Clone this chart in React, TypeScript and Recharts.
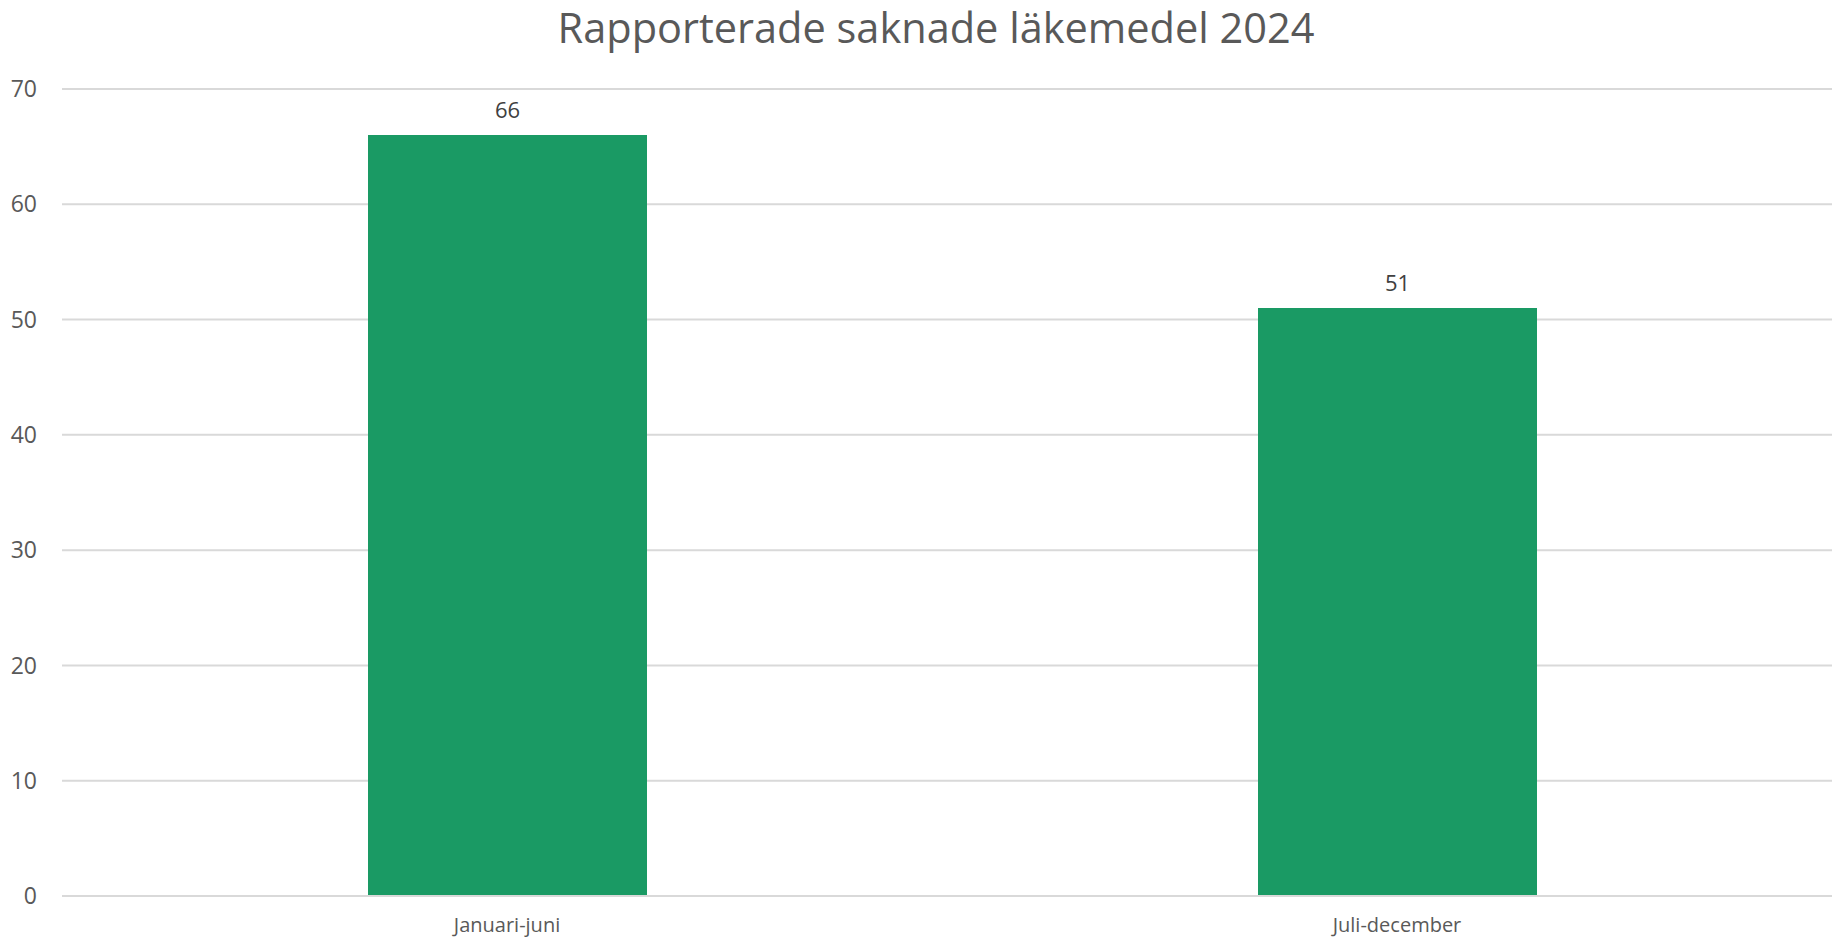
import React from "react";
import { BarChart, Bar, XAxis, YAxis, CartesianGrid, LabelList } from "recharts";

const categories = ["Januari-juni", "Juli-december"];
const values = [66, 51];
const yTicks = [0, 10, 20, 30, 40, 50, 60, 70];
const title = "Rapporterade saknade läkemedel 2024";

const data = categories.map((name, i) => ({ name, value: values[i] }));

const FONT = "'Open Sans', sans-serif";
const GRAY = "#595959";

export default function App() {
  return (
    <div style={{ position: "absolute", left: 0, top: 0, width: 1832, height: 939, overflow: "hidden", background: "#fff", fontFamily: FONT }}>
      <div style={{ position: "absolute", left: 0, top: 1, width: 1872, textAlign: "center", fontSize: 41.5, color: GRAY, lineHeight: "52px" }}>
        {title}
      </div>
      <BarChart width={1842} height={939} data={data} margin={{ top: 89, right: 0, bottom: 0, left: 0 }}>
        <CartesianGrid vertical={false} stroke="#D9D9D9" strokeWidth={2} />
        <XAxis
          dataKey="name"
          height={43}
          axisLine={{ stroke: "#D9D9D9", strokeWidth: 2 }}
          tickLine={false}
          tickMargin={16}
          tick={{ fill: GRAY, fontSize: 20, fontFamily: FONT }}
        />
        <YAxis
          width={62}
          domain={[0, 70]}
          ticks={yTicks}
          axisLine={false}
          tickLine={false}
          tickMargin={19}
          tick={{ fill: GRAY, fontSize: 23, fontFamily: FONT }}
        />
        <Bar dataKey="value" fill="#1A9A64" barSize={279} isAnimationActive={false}>
          <LabelList dataKey="value" position="top" offset={17} fill="#404040" fontSize={22} fontFamily={FONT} />
        </Bar>
      </BarChart>
    </div>
  );
}
